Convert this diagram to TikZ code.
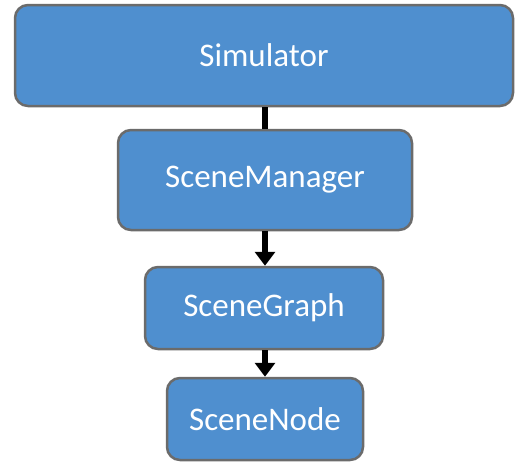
\documentclass[tikz,border=0pt]{standalone}
\usepackage{fontspec}
\setmainfont{Carlito}
\usetikzlibrary{arrows.meta}
\definecolor{boxfill}{HTML}{4F8FCF}
\definecolor{boxline}{HTML}{6B6B6B}
\tikzset{
  blockbox/.style={draw=boxline, line width=2.5pt, fill=boxfill, rounded corners=13pt,
    text=white, font=\fontsize{33}{38}\selectfont, inner sep=0pt, anchor=center},
  link/.style={line width=5.5pt, draw=black},
  linkarrow/.style={link, -{Triangle[width=20pt,length=14pt]}}
}
\begin{document}
\begin{tikzpicture}[x=1pt,y=-1pt]
\useasboundingbox (0,0) rectangle (515,463);
\node[blockbox, minimum width=498pt, minimum height=101pt] (sim) at (264,55.5) {Simulator};
\node[blockbox, minimum width=294pt, minimum height=100pt] (mgr) at (265,180) {SceneManager};
\node[blockbox, minimum width=238pt, minimum height=82pt] (graph) at (264,308) {SceneGraph};
\node[blockbox, minimum width=196pt, minimum height=82pt] (snode) at (265,419) {SceneNode};
\draw[link] (sim.south -| mgr.north) -- (mgr.north);
\draw[linkarrow] (mgr.south) -- (graph.north -| mgr.south);
\draw[linkarrow] (graph.south -| snode.north) -- (snode.north);
\end{tikzpicture}
\end{document}
